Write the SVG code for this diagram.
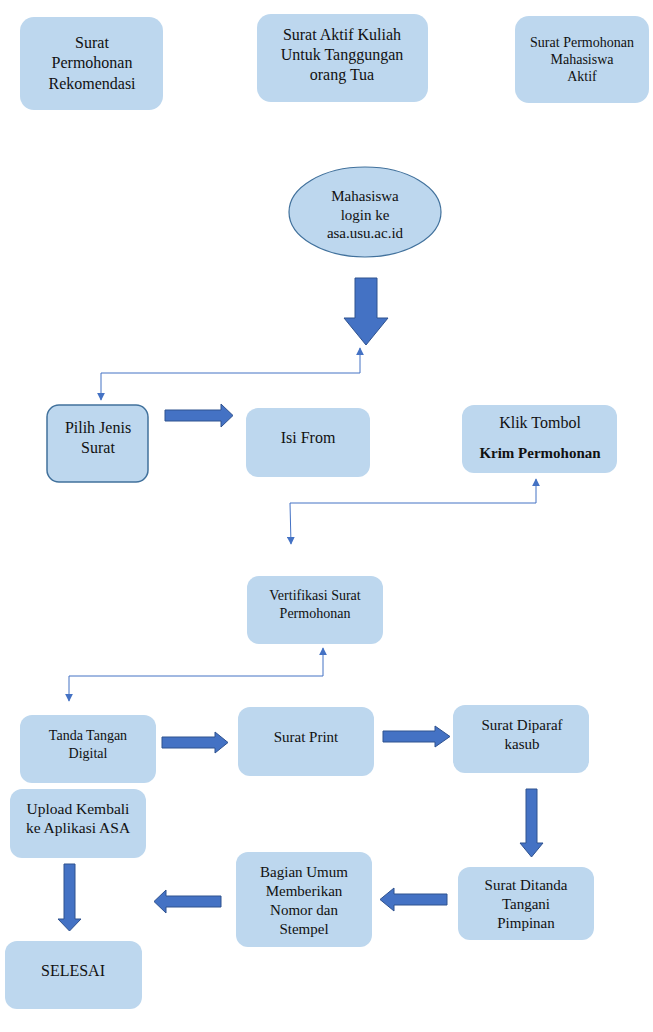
<svg xmlns="http://www.w3.org/2000/svg" width="653" height="1032" viewBox="0 0 653 1032">
<style>
.box{fill:#bdd7ee;stroke:none}
.boxs{fill:#bdd7ee;stroke:#41719c;stroke-width:1.5}
.t{font-family:'Liberation Serif','DejaVu Serif',serif;fill:#111;text-anchor:middle}
.blk{fill:#4472c4;stroke:#2f528f;stroke-width:1}
.con{fill:none;stroke:#4472c4;stroke-width:1}
</style>
<defs>
<marker id="ah" viewBox="0 0 10 10" refX="9" refY="5" markerWidth="8" markerHeight="8" markerUnits="userSpaceOnUse" orient="auto">
<path d="M0,0 L10,5 L0,10 Z" fill="#4472c4"/>
</marker>
</defs>
<rect width="653" height="1032" fill="#fff"/>

<g id="n-rekomendasi">
<rect class="box" x="20" y="17" width="143" height="93" rx="14"/>
<text class="t" font-size="16" x="92" y="48">Surat</text>
<text class="t" font-size="16" x="92" y="68">Permohonan</text>
<text class="t" font-size="16" x="92" y="89">Rekomendasi</text>
</g>
<g id="n-aktif-kuliah">
<rect class="box" x="257" y="14" width="171" height="88" rx="14"/>
<text class="t" font-size="16" x="342" y="40">Surat Aktif Kuliah</text>
<text class="t" font-size="16" x="342" y="60">Untuk Tanggungan</text>
<text class="t" font-size="16" x="342" y="80">orang Tua</text>
</g>
<g id="n-mahasiswa-aktif">
<rect class="box" x="515" y="16" width="134" height="87" rx="14"/>
<text class="t" font-size="14" x="582" y="47">Surat Permohonan</text>
<text class="t" font-size="14" x="582" y="64">Mahasiswa</text>
<text class="t" font-size="14" x="582" y="81">Aktif</text>
</g>

<g id="n-login">
<ellipse cx="365" cy="212" rx="76" ry="45" fill="#bdd7ee" stroke="#41719c" stroke-width="1.2"/>
<text class="t" font-size="15" x="365" y="201">Mahasiswa</text>
<text class="t" font-size="15" x="365" y="220">login ke</text>
<text class="t" font-size="15" x="365" y="238">asa.usu.ac.id</text>
</g>

<g id="n-pilih">
<rect class="boxs" x="47" y="405" width="101" height="77" rx="12"/>
<text class="t" font-size="16" x="98" y="433">Pilih Jenis</text>
<text class="t" font-size="16" x="98" y="453">Surat</text>
</g>
<g id="n-isi">
<rect class="box" x="246" y="408" width="124" height="69" rx="12"/>
<text class="t" font-size="16" x="308" y="443">Isi From</text>
</g>
<g id="n-klik">
<rect class="box" x="462" y="405" width="155" height="68" rx="12"/>
<text class="t" font-size="16" x="540" y="428">Klik Tombol</text>
<text class="t" font-size="15" font-weight="bold" x="540" y="458">Krim Permohonan</text>
</g>
<g id="n-verifikasi">
<rect class="box" x="247" y="576" width="136" height="68" rx="12"/>
<text class="t" font-size="14" x="315" y="600">Vertifikasi Surat</text>
<text class="t" font-size="14" x="315" y="618">Permohonan</text>
</g>
<g id="n-tanda-tangan">
<rect class="box" x="20" y="715" width="136" height="68" rx="12"/>
<text class="t" font-size="14" x="88" y="740">Tanda Tangan</text>
<text class="t" font-size="14" x="88" y="758">Digital</text>
</g>
<g id="n-print">
<rect class="box" x="238" y="707" width="136" height="69" rx="12"/>
<text class="t" font-size="15" x="306" y="742">Surat Print</text>
</g>
<g id="n-diparaf">
<rect class="box" x="453" y="705" width="136" height="68" rx="12"/>
<text class="t" font-size="15" x="522" y="730">Surat Diparaf</text>
<text class="t" font-size="15" x="522" y="749">kasub</text>
</g>
<g id="n-upload">
<rect class="box" x="10" y="789" width="136" height="69" rx="12"/>
<text class="t" font-size="15.5" x="78" y="814">Upload Kembali</text>
<text class="t" font-size="15.5" x="78" y="833">ke Aplikasi ASA</text>
</g>
<g id="n-ditanda">
<rect class="box" x="458" y="867" width="136" height="73" rx="12"/>
<text class="t" font-size="15" x="526" y="890">Surat Ditanda</text>
<text class="t" font-size="15" x="526" y="909">Tangani</text>
<text class="t" font-size="15" x="526" y="928">Pimpinan</text>
</g>
<g id="n-bagian">
<rect class="box" x="236" y="852" width="136" height="95" rx="12"/>
<text class="t" font-size="15" x="304" y="877">Bagian Umum</text>
<text class="t" font-size="15" x="304" y="896">Memberikan</text>
<text class="t" font-size="15" x="304" y="915">Nomor dan</text>
<text class="t" font-size="15" x="304" y="934">Stempel</text>
</g>
<g id="n-selesai">
<rect class="box" x="5" y="941" width="137" height="68" rx="12"/>
<text class="t" font-size="16" x="73" y="976">SELESAI</text>
</g>

<g id="connectors">
<polygon class="blk" points="355,278 377,278 377,318 388,318 366,345 344,318 355,318"/>
<path class="con" d="M360,373 H101 V400" marker-end="url(#ah)"/>
<path class="con" d="M360,373 V348" marker-end="url(#ah)"/>
<polygon class="blk" points="165,410 221,410 221,404 233,415.5 221,427 221,421 165,421"/>
<path class="con" d="M290,503 H536 V479" marker-end="url(#ah)"/>
<path class="con" d="M290,503 L291,544" marker-end="url(#ah)"/>
<path class="con" d="M69,676 H323 V648" marker-end="url(#ah)"/>
<path class="con" d="M69,676 V701" marker-end="url(#ah)"/>
<polygon class="blk" points="162,737 215,737 215,732 228,742.5 215,753 215,748 162,748"/>
<polygon class="blk" points="383,731 435,731 435,726 450,736.5 435,747 435,742 383,742"/>
<polygon class="blk" points="526,789 537,789 537,843 543,843 531.5,857 520,843 526,843"/>
<polygon class="blk" points="447,894 394,894 394,888 380,899.5 394,911 394,905 447,905"/>
<polygon class="blk" points="221,896 166,896 166,890 154,901.5 166,913 166,907 221,907"/>
<polygon class="blk" points="64,864 75,864 75,919 81,919 69.5,931 58,919 64,919"/>
</g>
</svg>
